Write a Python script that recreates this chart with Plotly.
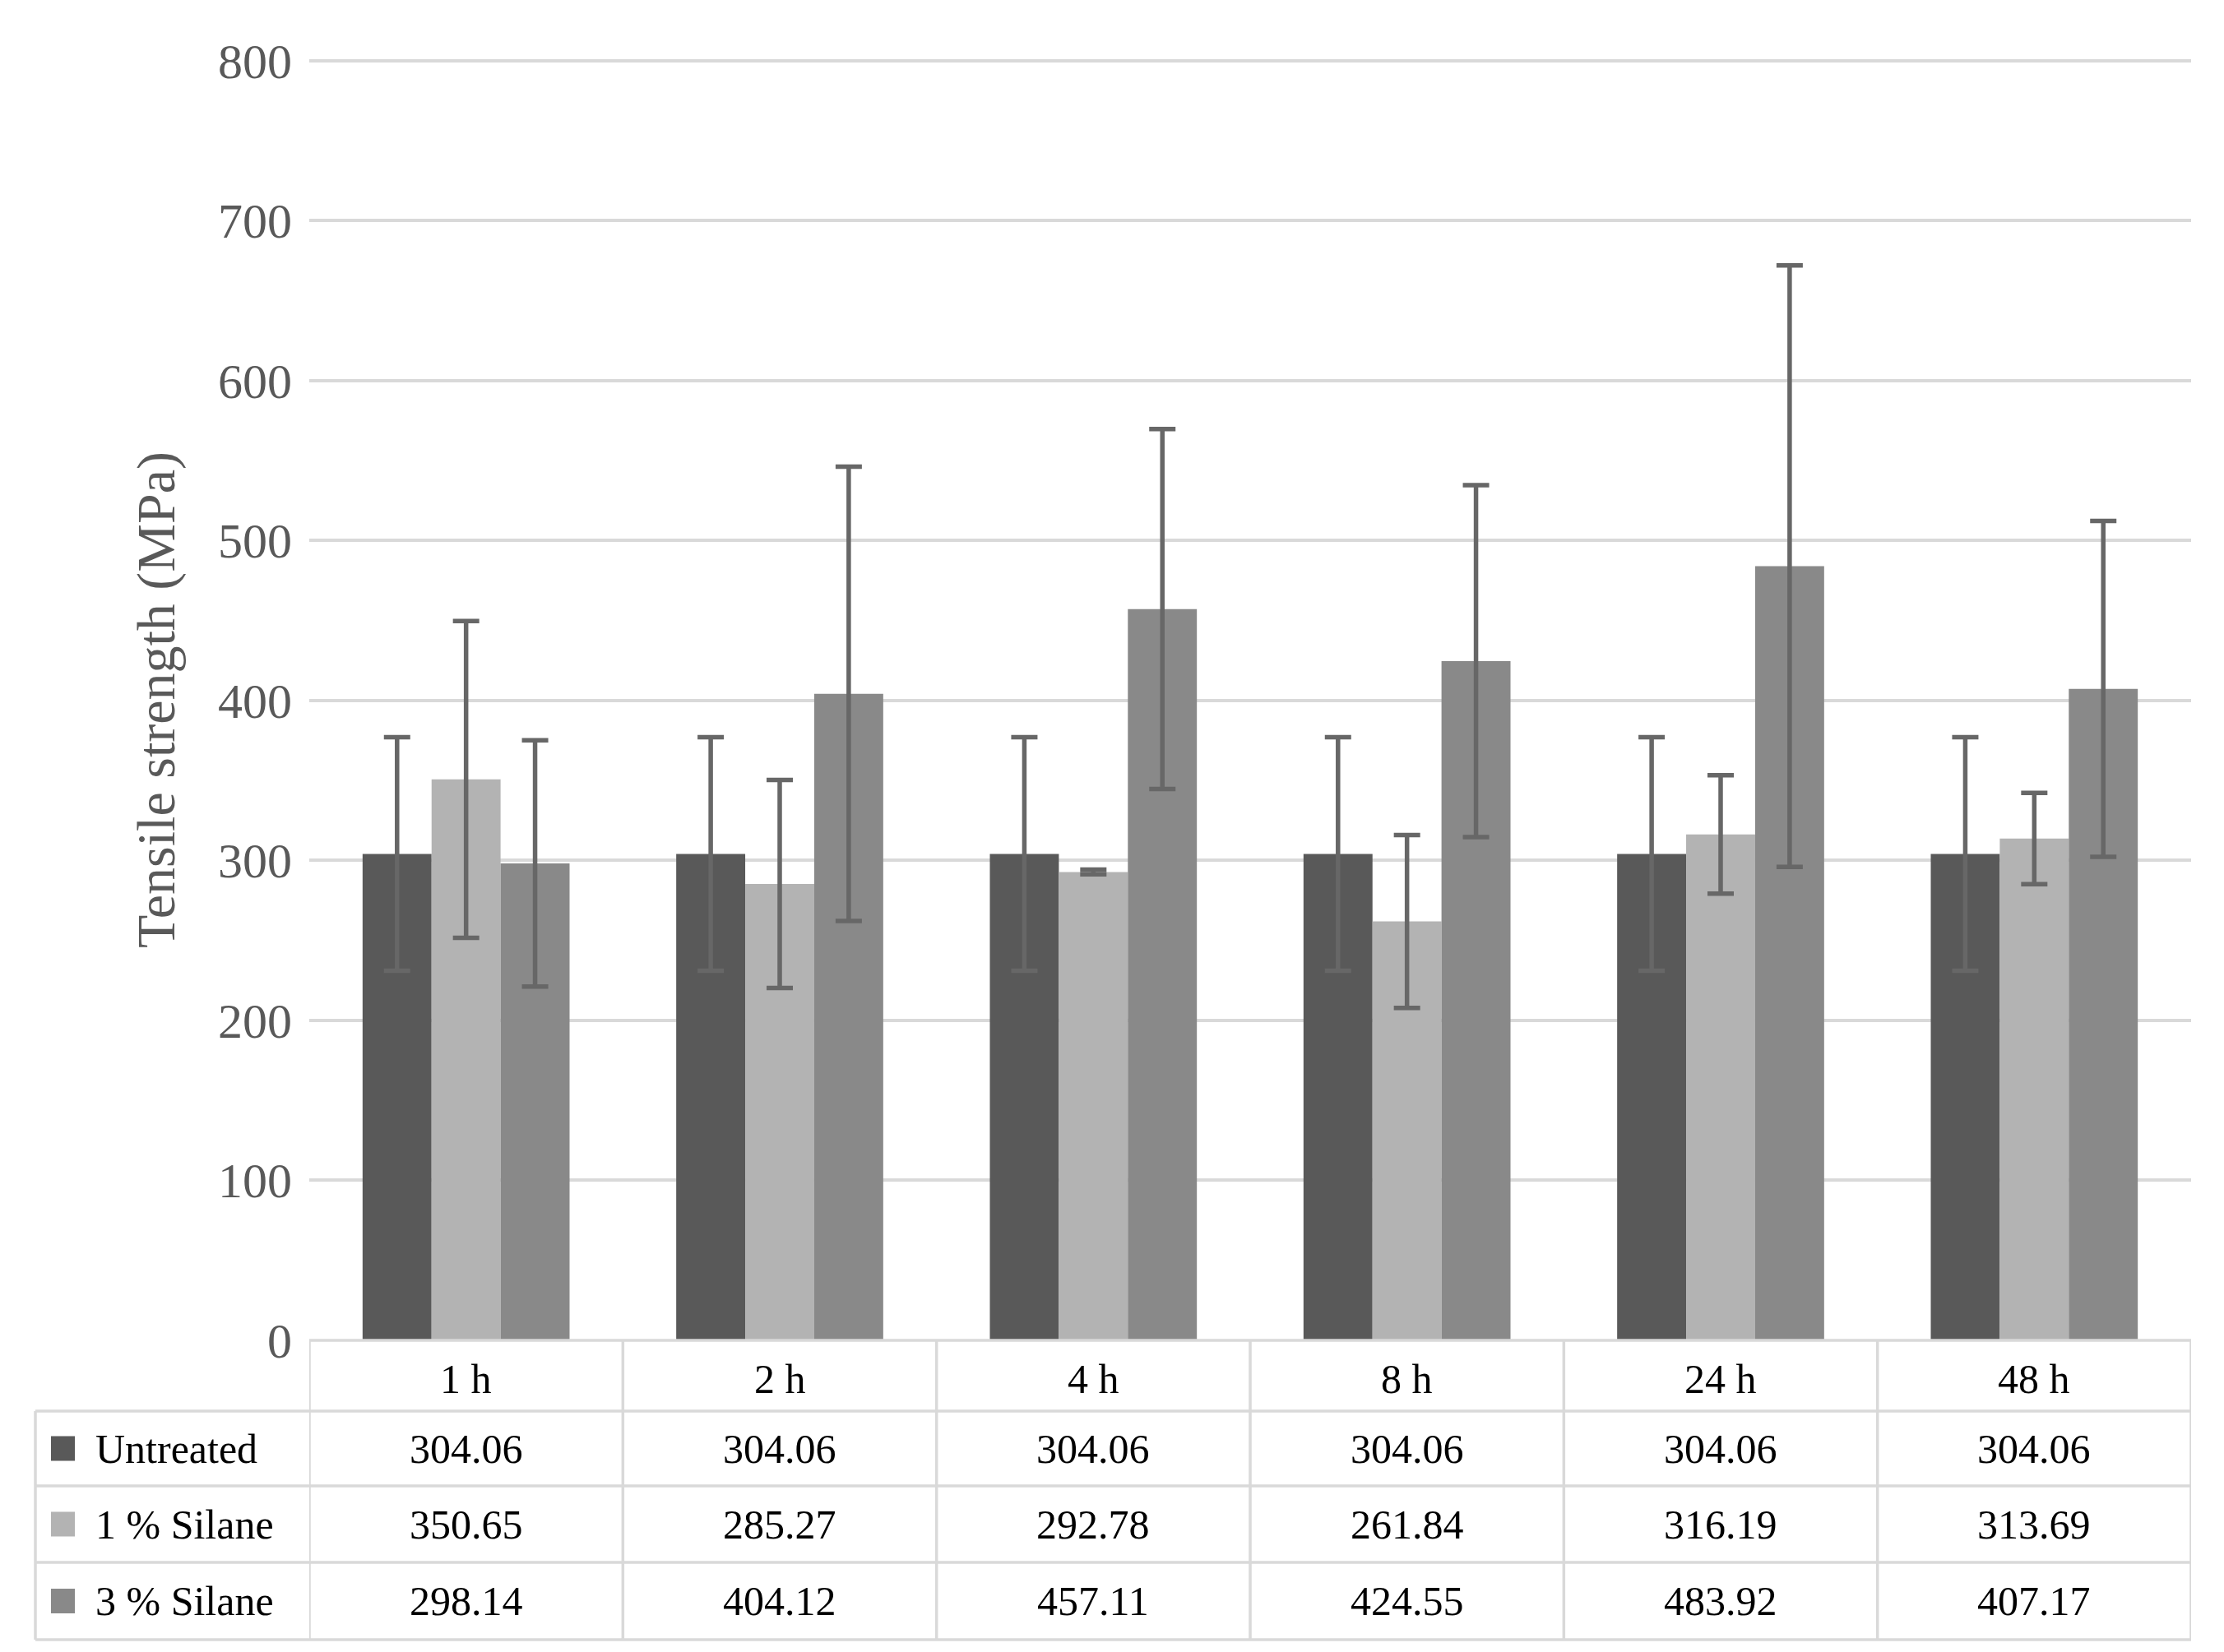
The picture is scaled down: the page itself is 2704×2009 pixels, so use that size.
import plotly.graph_objects as go

# ---- data ----
categories = ["1 h", "2 h", "4 h", "8 h", "24 h", "48 h"]
series_names = ["Untreated", "1 % Silane", "3 % Silane"]
untreated = [304.06, 304.06, 304.06, 304.06, 304.06, 304.06]
silane_1 = [350.65, 285.27, 292.78, 261.84, 316.19, 313.69]
silane_3 = [298.14, 404.12, 457.11, 424.55, 483.92, 407.17]
err_untreated = [73, 73, 73, 73, 73, 73]
err_silane_1 = [99, 65, 1.5, 54, 37, 28.5]
err_silane_3 = [77, 142, 112.5, 110, 188, 105]
y_ticks = [0, 100, 200, 300, 400, 500, 600, 700, 800]

colors = ["#595959", "#B3B3B3", "#898989"]
err_color = "#676767"
grid_color = "#D9D9D9"
FONT = "Liberation Serif"

# figure size (page body has an 8 px margin)
W, H = 2688, 1993
plot_left, plot_right = 368, 2656
plot_top, plot_bottom = 64, 1622
table_left = 35
row_lines = [1708, 1799, 1892, 1986]   # bottom of header row, then rows


def py(v):
    return 1 - v / H


def px_(v):
    return v / W


fig = go.Figure()
for name, vals, errs, col in zip(series_names,
                                 [untreated, silane_1, silane_3],
                                 [err_untreated, err_silane_1, err_silane_3],
                                 colors):
    fig.add_trace(go.Bar(
        x=categories, y=vals, name=name,
        marker=dict(color=col, line=dict(width=0)),
        error_y=dict(type="data", array=errs, visible=True,
                     color=err_color, thickness=5.5, width=16),
        showlegend=False,
    ))

shapes = []
annotations = []
line_style = dict(color=grid_color, width=3.5)
n = len(categories)

# table: horizontal lines
shapes.append(dict(type="line", xref="x", yref="paper", x0=-0.5, x1=n - 0.5,
                   y0=py(plot_bottom), y1=py(plot_bottom), line=line_style))
for yl in row_lines:
    shapes.append(dict(type="line", xref="paper", yref="paper",
                       x0=px_(table_left), x1=px_(plot_right),
                       y0=py(yl), y1=py(yl), line=line_style))
# vertical lines at category boundaries
for i in range(n + 1):
    shapes.append(dict(type="line", xref="x", yref="paper", x0=i - 0.5, x1=i - 0.5,
                       y0=py(plot_bottom), y1=py(row_lines[-1]), line=line_style))
shapes.append(dict(type="line", xref="paper", yref="paper",
                   x0=px_(table_left), x1=px_(table_left),
                   y0=py(row_lines[0]), y1=py(row_lines[-1]), line=line_style))

# header texts
header_center = (plot_bottom + row_lines[0]) / 2 + 4
for cat in categories:
    annotations.append(dict(x=cat, xref="x", y=py(header_center), yref="paper",
                            text=cat, showarrow=False, xanchor="center", yanchor="middle",
                            font=dict(family=FONT, size=50, color="black")))

# body rows
series_vals = [untreated, silane_1, silane_3]
for r, (name, vals, col) in enumerate(zip(series_names, series_vals, colors)):
    yc = (row_lines[r] + row_lines[r + 1]) / 2
    # legend key square
    shapes.append(dict(type="rect", xref="paper", yref="paper",
                       x0=px_(54), x1=px_(83), y0=py(yc + 15), y1=py(yc - 15),
                       fillcolor=col, line=dict(width=0)))
    annotations.append(dict(x=px_(106), xref="paper", y=py(yc), yref="paper",
                            text=name, showarrow=False, xanchor="left", yanchor="middle",
                            font=dict(family=FONT, size=50, color="black")))
    for cat, v in zip(categories, vals):
        annotations.append(dict(x=cat, xref="x", y=py(yc), yref="paper",
                                text=f"{v:.2f}", showarrow=False,
                                xanchor="center", yanchor="middle",
                                font=dict(family=FONT, size=50, color="black")))

fig.update_layout(
    template="none",
    width=W, height=H,
    margin=dict(l=0, r=0, t=0, b=0, pad=0),
    paper_bgcolor="white", plot_bgcolor="white",
    barmode="group", bargap=0.34, bargroupgap=0,
    font=dict(family=FONT),
    shapes=shapes, annotations=annotations,
    xaxis=dict(domain=[px_(plot_left), px_(plot_right)], type="category",
               range=[-0.5, n - 0.5], automargin=False,
               showticklabels=False, showgrid=False, showline=False,
               ticks="", zeroline=False),
    yaxis=dict(domain=[py(plot_bottom), py(plot_top)], automargin=False,
               range=[0, 800.8], tickvals=y_ticks,
               showgrid=True, gridcolor=grid_color, gridwidth=3.5,
               zeroline=False, showline=False, ticks="",
               tickfont=dict(family=FONT, size=60, color="#595959"),
               ticklabelstandoff=20,
               title=dict(text="Tensile strength (MPa)",
                          font=dict(family=FONT, size=66, color="#595959"),
                          standoff=30)),
)

fig.write_html("out.html")
